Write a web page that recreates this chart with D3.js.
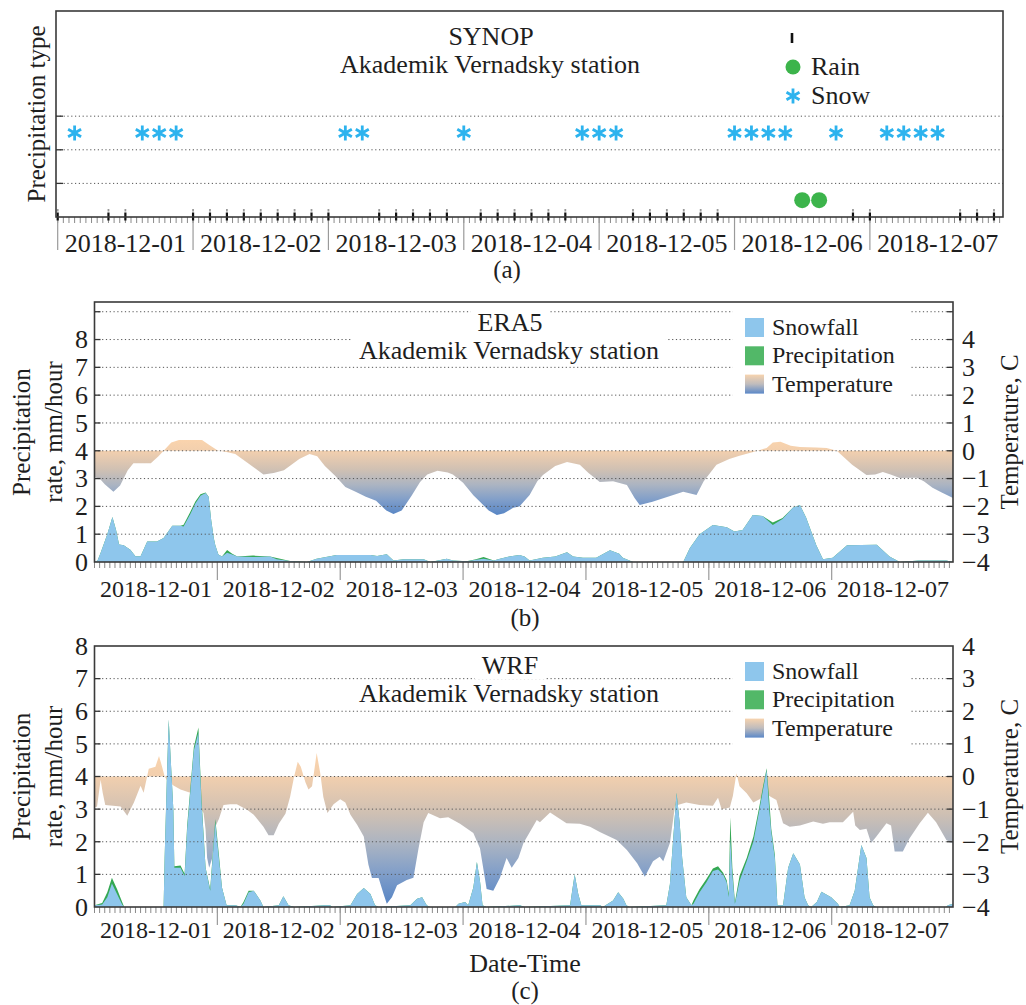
<!DOCTYPE html>
<html>
<head>
<meta charset="utf-8">
<script src="https://cdn.jsdelivr.net/npm/d3@7"></script>
<style>
  html, body { margin: 0; padding: 0; background: #fff; }
  svg text { font-family: "Liberation Serif", "Times New Roman", serif; fill: #1e1e1e; }
</style>
</head>
<body>
<svg id="chart" width="1026" height="1005"></svg>
<script>
// hours after 2018-12-01 00:00 UTC

// (a) SYNOP observations
const synopSnowHours = [3, 15, 18, 21, 51, 54, 72, 93, 96, 99, 120, 123, 126, 129, 138, 147, 150, 153, 156];
const synopRainHours = [132, 135];
const synopNoneHours = [0, 9, 12, 24, 27, 30, 33, 36, 39, 42, 45, 48, 57, 60, 63, 66, 69, 75, 78, 81, 84, 87, 90,
  102, 105, 108, 111, 114, 117, 141, 144, 160, 163, 166];

// (b) ERA5, mm/hour
const era5Hours = [0, 0.6, 1.2, 2.5, 3.5, 4.2, 4.8, 5.7, 7, 8, 9, 10.3, 12.2, 13.5, 15.2, 16.8,
  17.4, 18.7, 19.7, 20.7, 21.7, 22.3, 22.8, 23.3, 23.6, 24.2, 24.9, 25.9, 26.9, 27.9, 31, 34.3,
  35.6, 38.2, 41.5, 43.4, 47.3, 53.9, 55.2, 57.1, 58.4, 60.4, 64.3, 65.6, 68.8, 70, 72.7, 74.5,
  76, 78, 79.2, 81, 83, 84, 85, 87.6, 90, 92.3, 93.5, 95.4, 98, 100.7, 102.5, 103.2, 105.2, 115,
  116.3, 118.2, 120.8, 123.5, 125, 126.6, 128.6, 130.5, 132.5, 134.4, 136.4, 137.8, 139, 141, 142.3, 144.2,
  147, 152.8, 155.3, 157.3, 161, 166.4, 167.7];
const era5Snowfall = [0, 0.05, 0.33, 1.0, 1.62, 1.16, 0.63, 0.6, 0.44, 0.21, 0.21, 0.74, 0.74, 0.86, 1.3, 1.3,
  1.28, 1.72, 2.1, 2.38, 2.48, 2.35, 1.5, 0.86, 0.6, 0.27, 0.2, 0.33, 0.27, 0.2, 0.18, 0.2,
  0.1, 0.04, 0, 0.12, 0.25, 0.25, 0.22, 0.28, 0.05, 0.1, 0.1, 0, 0.12, 0.05, 0.03, 0.08,
  0.12, 0.05, 0.12, 0.2, 0.25, 0.2, 0.05, 0.15, 0.2, 0.35, 0.2, 0.15, 0.15, 0.42, 0.3, 0.15, 0, 0,
  0.5, 1.0, 1.33, 1.25, 1.1, 1.15, 1.69, 1.65, 1.33, 1.55, 1.95, 2.05, 1.6, 0.6, 0.1, 0.15,
  0.6, 0.62, 0.2, 0, 0.05, 0.05, 0];
const era5Precip = [0, 0.05, 0.33, 1.0, 1.62, 1.16, 0.63, 0.6, 0.44, 0.21, 0.21, 0.74, 0.74, 0.86, 1.3, 1.3,
  1.34, 1.8, 2.18, 2.44, 2.5, 2.35, 1.5, 0.86, 0.6, 0.27, 0.2, 0.43, 0.3, 0.2, 0.23, 0.2,
  0.14, 0.04, 0, 0.12, 0.25, 0.25, 0.22, 0.28, 0.05, 0.1, 0.1, 0, 0.12, 0.05, 0.03, 0.1,
  0.18, 0.05, 0.12, 0.2, 0.25, 0.2, 0.05, 0.15, 0.2, 0.35, 0.2, 0.15, 0.15, 0.42, 0.3, 0.15, 0, 0,
  0.5, 1.0, 1.33, 1.25, 1.1, 1.15, 1.69, 1.65, 1.42, 1.58, 1.95, 2.05, 1.6, 0.6, 0.1, 0.15,
  0.6, 0.62, 0.2, 0, 0.05, 0.05, 0];
// ERA5 temperature, C
const era5TempHours = [0, 1, 2, 3.7, 5, 6.5, 7.6, 11, 12.5, 13.5, 15, 16.5, 21, 22.5, 24, 26, 27.5, 30, 33, 35,
  37, 40, 42, 43.5, 45, 47, 49, 51, 53, 55, 57, 58.4, 60, 62, 63.6, 65, 67, 69, 70, 72,
  74, 75.3, 77, 78.6, 80, 81.8, 83, 85, 86.5, 87.6, 90, 92.3, 94.8, 96.5, 98.7, 101.3, 104, 105.5, 106.5, 109,
  112, 115, 117.6, 119, 121.5, 124, 126, 128.5, 131.3, 132.5, 134, 136, 137.8, 141, 143, 145, 146.5, 148, 150.8, 152.5,
  154, 155.5, 157.3, 160.6, 162, 163.7, 165.5, 167.7];
const era5Temp = [-0.95, -1.0, -1.2, -1.47, -1.25, -0.7, -0.45, -0.45, -0.2, 0, 0.3, 0.39, 0.39, 0.2, 0.02, -0.05, -0.12, -0.45, -0.85, -0.8,
  -0.7, -0.3, -0.12, -0.2, -0.55, -0.9, -1.3, -1.47, -1.65, -1.8, -2.15, -2.27, -2.15, -1.6, -1.12, -0.85, -0.72, -0.78, -0.85, -1.15,
  -1.6, -1.83, -2.15, -2.31, -2.25, -2.05, -2.0, -1.59, -1.1, -0.87, -0.55, -0.4, -0.5, -0.8, -1.12, -1.1, -1.23, -1.7, -1.95, -1.83,
  -1.65, -1.47, -1.59, -1.1, -0.5, -0.3, -0.18, -0.05, 0.1, 0.3, 0.32, 0.18, 0.14, 0.12, 0.1, 0, -0.25, -0.5, -0.87, -0.85,
  -0.76, -0.85, -0.98, -0.97, -1.1, -1.33, -1.5, -1.7];

// (c) WRF, mm/hour
const wrfHours = [0, 1.5, 2.5, 3.4, 4.4, 5.4, 5.8, 13.5, 13.7, 14.2, 14.5, 14.9, 15.4, 15.6, 16.8, 17.6,
  18.1, 18.7, 19.4, 20.3, 20.9, 21.7, 22.6, 23.6, 24.3, 24.9, 25.8, 27.6, 28.5, 29.1, 30.1, 31.1,
  32.4, 33, 36, 36.9, 37.9, 39, 45.1, 46, 46.5, 50, 51.3, 52.6, 53.9, 54.8, 55.5, 61.7,
  63, 64, 64.9, 65.5, 70.5, 71.1, 72.4, 73, 74, 74.7, 75.3, 75.8, 76.5, 83.1, 84, 92.9,
  93.5, 93.8, 94.5, 95.1, 97, 98.8, 99.3, 101.3, 102.3, 103.3, 103.9, 104.5, 111.7, 112.4, 113, 113.7,
  114.3, 114.8, 115.6, 116.6, 117, 118.2, 119.5, 120.8, 121.8, 122.8, 123.5, 123.9, 124.2, 124.6, 125.1, 126,
  127.4, 128.7, 129.9, 130.6, 131.3, 131.8, 132.2, 132.9, 133.4, 134.5, 135.5, 136.5, 137.8, 138.7, 139.4, 140,
  141.1, 142, 143.9, 145.2, 145.6, 147.5, 148.5, 149.8, 150.8, 151.4, 152.1, 152.6, 166.4, 166.7, 167.7];
const wrfSnowfall = [0.05, 0.08, 0.3, 0.72, 0.4, 0.08, 0, 0, 1.5, 4.3, 5.75, 4.5, 3.0, 1.2, 1.2, 0.95,
  2.4, 3.5, 4.8, 5.35, 3.2, 1.2, 0.5, 2.6, 1.5, 0.6, 0.05, 0.05, 0, 0.1, 0.45, 0.5,
  0.2, 0, 0.05, 0.33, 0.05, 0, 0.05, 0.05, 0, 0.05, 0.4, 0.58, 0.4, 0.05, 0, 0.05,
  0.25, 0.3, 0.05, 0, 0, 0.1, 0.15, 0.05, 0.6, 1.38, 0.8, 0.05, 0, 0.05, 0, 0.05,
  0.7, 1.0, 0.4, 0.05, 0.05, 0.05, 0, 0.2, 0.45, 0.25, 0.05, 0, 0.05, 0.7, 2.0, 3.5,
  2.6, 1.5, 0.3, 0.05, 0.1, 0.45, 0.75, 1.1, 1.15, 1.0, 0.75, 0.3, 2.1, 1.0, 0.1, 0.8,
  1.4, 2.0, 3.0, 3.6, 4.2, 3.0, 2.3, 1.5, 0.05, 0.05, 1.2, 1.65, 1.3, 0.3, 0.05, 0,
  0.15, 0.47, 0.3, 0.1, 0, 0.05, 0.5, 1.9, 1.5, 0.3, 0.05, 0, 0, 0.05, 0.1];
const wrfPrecip = [0.05, 0.12, 0.45, 0.9, 0.55, 0.15, 0, 0, 1.5, 4.3, 5.75, 4.5, 3.0, 1.25, 1.27, 1.02,
  2.5, 3.6, 4.9, 5.5, 3.3, 1.2, 0.55, 2.7, 1.6, 0.6, 0.05, 0.05, 0, 0.15, 0.5, 0.5,
  0.2, 0, 0.05, 0.33, 0.05, 0, 0.05, 0.05, 0, 0.05, 0.4, 0.58, 0.4, 0.05, 0, 0.05,
  0.25, 0.3, 0.05, 0, 0, 0.1, 0.15, 0.05, 0.6, 1.38, 0.8, 0.05, 0, 0.05, 0, 0.05,
  0.7, 1.0, 0.4, 0.05, 0.05, 0.05, 0, 0.2, 0.45, 0.25, 0.05, 0, 0.05, 0.7, 2.0, 3.5,
  2.6, 1.5, 0.3, 0.05, 0.2, 0.55, 0.85, 1.18, 1.25, 1.05, 0.82, 0.4, 2.75, 1.2, 0.15, 0.95,
  1.5, 2.15, 3.1, 3.7, 4.25, 3.3, 2.4, 1.6, 0.05, 0.05, 1.2, 1.65, 1.3, 0.3, 0.05, 0,
  0.15, 0.47, 0.3, 0.1, 0, 0.05, 0.5, 1.9, 1.5, 0.3, 0.05, 0, 0, 0.05, 0.1];
// WRF temperature, C
const wrfTempHours = [0, 0.5, 1.2, 1.6, 2.1, 5.1, 6.4, 7.7, 9, 9.6, 10.6, 11.9, 12.6, 13.2, 13.7, 14.2, 15.5, 16.8, 18.7, 20,
  21.3, 21.7, 22, 22.4, 23, 23.6, 24.3, 25.2, 26.5, 27.8, 29.8, 31.1, 33, 34, 35, 36, 37.3, 38.2, 39, 39.7,
  40.3, 41.2, 41.8, 42.5, 43.4, 44.1, 44.7, 45.5, 46.7, 48, 49, 50, 51.3, 52.6, 53.5, 54.2, 55.5, 56.5, 57.1, 58.1,
  59.1, 61, 62.3, 63.3, 64.3, 65.2, 67.5, 69.1, 71.4, 74, 75.3, 76.6, 77.9, 79.2, 80.5, 81.5, 82.8, 83.8, 86.4, 87,
  89, 92.2, 94.8, 96.8, 98.7, 102, 104, 106, 107.5, 109.1, 110.4, 111.1, 112.4, 113.4, 115.6, 118.2, 120.8, 121.8, 122.5, 124.1,
  124.7, 125.4, 126, 127.4, 128.7, 129.9, 131.3, 133.2, 134.5, 135.8, 137.8, 140.4, 142.3, 143.6, 146.2, 148.2, 148.6, 149.5, 150.8, 151.7,
  152.7, 154.7, 155.6, 156.3, 157.9, 159.2, 161.2, 162.8, 164.4, 166.4, 167.7];
const wrfTemp = [-0.95, -0.92, -0.1, -0.5, -0.87, -0.92, -1.2, -0.8, -0.28, -0.5, 0.24, 0.3, 0.63, 0.3, 0, -0.12, -0.28, -0.4, -0.5, -0.8,
  -1.12, -1.63, -2.49, -2.8, -2.5, -1.54, -1.3, -0.87, -0.85, -0.85, -1.02, -1.17, -1.54, -1.8, -1.8, -1.45, -1.14, -0.63, 0, 0.45,
  0.3, -0.18, -0.4, -0.3, 0.72, 0.1, -0.63, -1.12, -0.85, -0.7, -0.8, -1.17, -1.48, -1.84, -2.7, -3.11, -3.11, -3.62, -3.9, -3.7,
  -3.33, -3.17, -3.1, -2.2, -1.4, -1.12, -1.28, -1.25, -1.45, -1.73, -2.2, -3.45, -3.5, -3.1, -2.5, -2.8, -2.5, -2.04, -1.33, -1.4,
  -1.1, -1.43, -1.45, -1.54, -1.7, -1.95, -2.25, -2.66, -3.07, -2.6, -2.46, -2.6, -2.04, -0.9, -0.8, -0.87, -0.9, -0.65, -1.0, -0.95,
  -0.6, 0.1, -0.3, -0.51, -0.8, -0.7, -0.55, -0.72, -1.43, -1.54, -1.5, -1.38, -1.45, -1.4, -1.4, -1.08, -1.5, -1.64, -1.6, -2.04,
  -1.85, -1.43, -1.5, -2.3, -2.3, -1.9, -1.43, -1.11, -1.4, -1.95, -2.05];

const rateTicks = [0, 1, 2, 3, 4, 5, 6, 7, 8];
const tempTicks = [-4, -3, -2, -1, 0, 1, 2, 3, 4];
const legendLabels = ['Snowfall', 'Precipitation', 'Temperature'];

const T0 = Date.UTC(2018, 11, 1);
const toDate = h => new Date(T0 + h * 3600e3);
const dayFmt = d3.utcFormat('%Y-%m-%d');

const snowColor = '#8ec6ec';
const precipColor = '#34a853';
const starColor = '#2db3ee';
const rainColor = '#3cb44b';
const gridColor = '#555';
const tempStops = [
    { offset: 0, color: '#fad4ad' },
    { offset: 0.15, color: '#f2cfae' },
    { offset: 0.4, color: '#cfc0b3' },
    { offset: 0.6, color: '#abb4c2' },
    { offset: 0.8, color: '#809ec9' },
    { offset: 1, color: '#5886c5' }
];

const svg = d3.select('#chart');
const defs = svg.append('defs');
svg.append('rect').attr('width', 1026).attr('height', 1005).attr('fill', '#fff');

const legendGrad = defs.append('linearGradient').attr('id', 'legend-temp')
    .attr('x1', 0).attr('x2', 0).attr('y1', 0).attr('y2', 1);
legendGrad.selectAll('stop').data([
    { offset: 0, color: '#f7d3ae' },
    { offset: 0.5, color: '#bfbcbd' },
    { offset: 1, color: '#5b88c8' }
]).join('stop').attr('offset', d => d.offset).attr('stop-color', d => d.color);

function asteriskPath(r) {
    let p = '';
    [90, 30, 150].forEach(a => {
        const dx = r * Math.cos(a * Math.PI / 180), dy = r * Math.sin(a * Math.PI / 180);
        p += `M${-dx},${-dy}L${dx},${dy}`;
    });
    return p;
}

function titleWithBox(g, text, x, y, size) {
    const box = g.append('rect').attr('fill', '#fff');
    const t = g.append('text').attr('x', x).attr('y', y)
        .attr('text-anchor', 'middle').attr('font-size', size).text(text);
    const b = t.node().getBBox();
    box.attr('x', b.x - 7).attr('y', b.y + 2).attr('width', b.width + 14).attr('height', b.height - 3);
}

function dateAxis(g, x, bottom, sepLen, labelY, fontSize) {
    const [d0, d1] = x.domain();
    const [left, right] = x.range();
    g.selectAll('line.hour').data(d3.utcHour.range(d3.utcHour.ceil(d0), d1)).join('line')
        .attr('class', 'hour')
        .attr('x1', d => x(d)).attr('x2', d => x(d))
        .attr('y1', bottom).attr('y2', bottom + 6)
        .attr('stroke', '#8a8a8a').attr('stroke-width', 1);
    g.selectAll('line.day').data(d3.utcDay.range(d3.utcDay.ceil(d0), d1).filter(d => +d > +d0)).join('line')
        .attr('class', 'day')
        .attr('x1', d => x(d)).attr('x2', d => x(d))
        .attr('y1', bottom).attr('y2', bottom + sepLen)
        .attr('stroke', '#9a9a9a').attr('stroke-width', 1.2);
    const days = d3.utcDay.range(d3.utcDay.floor(d0), d1)
        .filter(d => +d3.utcHour.offset(d, 12) >= +d0 && +d3.utcHour.offset(d, 12) <= +d1);
    const labels = g.selectAll('text.day').data(days).join('text')
        .attr('class', 'day')
        .attr('y', labelY).attr('font-size', fontSize).attr('text-anchor', 'middle')
        .text(d => dayFmt(d));
    labels.each(function (d) {
        const w = this.getComputedTextLength();
        const cx = x(d3.utcHour.offset(d, 12));
        d3.select(this).attr('x', Math.max(left + w / 2, Math.min(right - w / 2, cx)));
    });
}

// ---------- (a) SYNOP ----------
function drawSynop() {
    const left = 56, right = 1003, top = 11, bottom = 217;
    const x = d3.scaleUtc().domain([toDate(-0.3), toDate(167.6)]).range([left, right]);
    const y = d3.scaleLinear().domain([0, 6.13]).range([bottom, top]);
    const g = svg.append('g');

    g.selectAll('line.grid').data([1, 2, 3]).join('line')
        .attr('class', 'grid')
        .attr('x1', left).attr('x2', right).attr('y1', d => y(d)).attr('y2', d => y(d))
        .attr('stroke', gridColor).attr('stroke-width', 1).attr('stroke-dasharray', '1.2,2.6');
    g.selectAll('line.ytick').data([1, 2, 3]).join('line')
        .attr('class', 'ytick')
        .attr('x1', left).attr('x2', left + 7).attr('y1', d => y(d)).attr('y2', d => y(d))
        .attr('stroke', '#333').attr('stroke-width', 1.3);

    dateAxis(g, x, bottom, 33, 252, 26);

    // no-precipitation observations
    g.selectAll('line.none-top').data(synopNoneHours).join('line')
        .attr('class', 'none-top')
        .attr('x1', d => x(toDate(d))).attr('x2', d => x(toDate(d)))
        .attr('y1', y(0) - 8).attr('y2', y(0) - 5.5)
        .attr('stroke', '#999').attr('stroke-width', 1.8);
    g.selectAll('line.none').data(synopNoneHours).join('line')
        .attr('class', 'none')
        .attr('x1', d => x(toDate(d))).attr('x2', d => x(toDate(d)))
        .attr('y1', y(0) - 4.5).attr('y2', y(0) + 3.5)
        .attr('stroke', '#111').attr('stroke-width', 2.2);

    g.selectAll('path.snow').data(synopSnowHours).join('path')
        .attr('class', 'snow')
        .attr('d', asteriskPath(7.5))
        .attr('transform', d => `translate(${x(toDate(d))},${y(2.5)})`)
        .attr('fill', 'none').attr('stroke', starColor).attr('stroke-width', 2.8);
    g.selectAll('circle.rain').data(synopRainHours).join('circle')
        .attr('class', 'rain')
        .attr('cx', d => x(toDate(d))).attr('cy', y(0.5)).attr('r', 8)
        .attr('fill', rainColor);

    g.append('rect').attr('x', left).attr('y', top)
        .attr('width', right - left).attr('height', bottom - top)
        .attr('fill', 'none').attr('stroke', '#3a3a3a').attr('stroke-width', 1.6);

    g.append('text').attr('x', 491).attr('y', 45).attr('text-anchor', 'middle')
        .attr('font-size', 26).text('SYNOP');
    g.append('text').attr('x', 490).attr('y', 73).attr('text-anchor', 'middle')
        .attr('font-size', 26).text('Akademik Vernadsky station');

    // legend
    g.append('line').attr('x1', 792).attr('x2', 792).attr('y1', 33).attr('y2', 43)
        .attr('stroke', '#111').attr('stroke-width', 2.6);
    g.append('circle').attr('cx', 793).attr('cy', 67).attr('r', 7.5).attr('fill', rainColor);
    g.append('path').attr('d', asteriskPath(7.5)).attr('transform', 'translate(793,96)')
        .attr('fill', 'none').attr('stroke', starColor).attr('stroke-width', 2.8);
    g.append('text').attr('x', 811).attr('y', 75).attr('font-size', 26).text('Rain');
    g.append('text').attr('x', 811).attr('y', 104).attr('font-size', 26).text('Snow');

    g.append('text').attr('transform', `translate(45,${(top + bottom) / 2}) rotate(-90)`)
        .attr('text-anchor', 'middle').attr('font-size', 25).text('Precipitation type');
    g.append('text').attr('x', 507).attr('y', 278).attr('text-anchor', 'middle')
        .attr('font-size', 25).text('(a)');
}

// ---------- (b), (c) model panels ----------
function drawModelPanel(p) {
    const left = 94.5, right = 953;
    const x = d3.scaleUtc().domain([toDate(0), toDate(167.7)]).range([left, right]);
    const yRate = d3.scaleLinear().domain([0, p.rateMax]).range([p.bottom, p.top]);
    const yTemp = d3.scaleLinear().domain([-4, p.rateMax - 4]).range([p.bottom, p.top]);
    const g = svg.append('g');
    const clipId = 'clip-' + p.id;
    defs.append('clipPath').attr('id', clipId).append('rect')
        .attr('x', left).attr('y', p.top).attr('width', right - left).attr('height', p.bottom - p.top);

    const [tMin, tMax] = d3.extent(p.temp);
    const grad = defs.append('linearGradient').attr('id', 'tgrad-' + p.id)
        .attr('gradientUnits', 'userSpaceOnUse')
        .attr('x1', 0).attr('x2', 0).attr('y1', yTemp(tMax)).attr('y2', yTemp(tMin));
    grad.selectAll('stop').data(tempStops).join('stop')
        .attr('offset', d => d.offset).attr('stop-color', d => d.color);

    const plot = g.append('g').attr('clip-path', `url(#${clipId})`);
    const tempRows = d3.zip(p.tempHours, p.temp);
    plot.append('path').datum(tempRows)
        .attr('d', d3.area().x(d => x(toDate(d[0]))).y0(yTemp(0)).y1(d => yTemp(d[1])))
        .attr('fill', `url(#tgrad-${p.id})`);
    const rows = d3.zip(p.hours, p.snow, p.precip);
    plot.append('path').datum(rows)
        .attr('d', d3.area().x(d => x(toDate(d[0]))).y0(yRate(0)).y1(d => yRate(d[2])))
        .attr('fill', precipColor);
    plot.append('path').datum(rows)
        .attr('d', d3.area().x(d => x(toDate(d[0]))).y0(yRate(0)).y1(d => yRate(d[1])))
        .attr('fill', snowColor);

    const gridVals = d3.range(1, Math.ceil(p.rateMax));
    g.selectAll('line.grid').data(gridVals).join('line')
        .attr('class', 'grid')
        .attr('x1', left).attr('x2', right).attr('y1', d => yRate(d)).attr('y2', d => yRate(d))
        .attr('stroke', gridColor).attr('stroke-width', 1).attr('stroke-dasharray', '1.2,2.6');
    g.selectAll('line.ltick').data(gridVals).join('line')
        .attr('class', 'ltick')
        .attr('x1', left).attr('x2', left + 6).attr('y1', d => yRate(d)).attr('y2', d => yRate(d))
        .attr('stroke', '#333').attr('stroke-width', 1.3);
    g.selectAll('line.rtick').data(gridVals).join('line')
        .attr('class', 'rtick')
        .attr('x1', right - 6).attr('x2', right).attr('y1', d => yRate(d)).attr('y2', d => yRate(d))
        .attr('stroke', '#333').attr('stroke-width', 1.3);

    dateAxis(g, x, p.bottom, 18, p.tickY, 24);

    g.selectAll('text.rate').data(rateTicks).join('text')
        .attr('class', 'rate')
        .attr('x', 88).attr('y', d => yRate(d)).attr('dy', '0.34em')
        .attr('text-anchor', 'end').attr('font-size', 26).text(d => d);
    g.selectAll('text.temp').data(tempTicks).join('text')
        .attr('class', 'temp')
        .attr('x', 962).attr('y', d => yTemp(d)).attr('dy', '0.34em')
        .attr('font-size', 26).text(d3.format('d'));

    // titles
    titleWithBox(g, p.title, 510, p.titleY, 26);
    titleWithBox(g, 'Akademik Vernadsky station', 509, p.titleY + 28, 26);

    // legend
    const lg = g.append('g');
    lg.append('rect').attr('x', 733).attr('y', p.legendY - 15).attr('width', 177).attr('height', 103)
        .attr('fill', '#fff');
    const fills = [snowColor, '#52b868', 'url(#legend-temp)'];
    legendLabels.forEach((lab, i) => {
        const yy = p.legendY + i * 28.3;
        lg.append('rect').attr('x', 745).attr('y', yy).attr('width', 19).attr('height', 19)
            .attr('fill', fills[i]);
        lg.append('text').attr('x', 772).attr('y', yy + 17).attr('font-size', 24).text(lab);
    });

    g.append('rect').attr('x', left).attr('y', p.top)
        .attr('width', right - left).attr('height', p.bottom - p.top)
        .attr('fill', 'none').attr('stroke', '#3a3a3a').attr('stroke-width', 1.6);

    const cy = (p.top + p.bottom) / 2;
    g.append('text').attr('transform', `translate(30,${cy}) rotate(-90)`)
        .attr('text-anchor', 'middle').attr('font-size', 25).text('Precipitation');
    g.append('text').attr('transform', `translate(62,${cy}) rotate(-90)`)
        .attr('text-anchor', 'middle').attr('font-size', 25).text('rate, mm/hour');
    g.append('text').attr('transform', `translate(1018,${cy}) rotate(-90)`)
        .attr('text-anchor', 'middle').attr('font-size', 25).text('Temperature, C');

    g.append('text').attr('x', 525).attr('y', p.tagY).attr('text-anchor', 'middle')
        .attr('font-size', 25).text(p.tag);
}

drawSynop();
drawModelPanel({
    id: 'era5', title: 'ERA5', top: 302, bottom: 562, rateMax: 9.35,
    hours: era5Hours, snow: era5Snowfall, precip: era5Precip,
    tempHours: era5TempHours, temp: era5Temp,
    titleY: 331, legendY: 318, tickY: 597, tag: '(b)', tagY: 626
});
drawModelPanel({
    id: 'wrf', title: 'WRF', top: 646, bottom: 907, rateMax: 8,
    hours: wrfHours, snow: wrfSnowfall, precip: wrfPrecip,
    tempHours: wrfTempHours, temp: wrfTemp,
    titleY: 674, legendY: 662, tickY: 938, tag: '(c)', tagY: 999
});
svg.append('text').attr('x', 525).attr('y', 972).attr('text-anchor', 'middle')
    .attr('font-size', 26).text('Date-Time');
</script>
</body>
</html>
